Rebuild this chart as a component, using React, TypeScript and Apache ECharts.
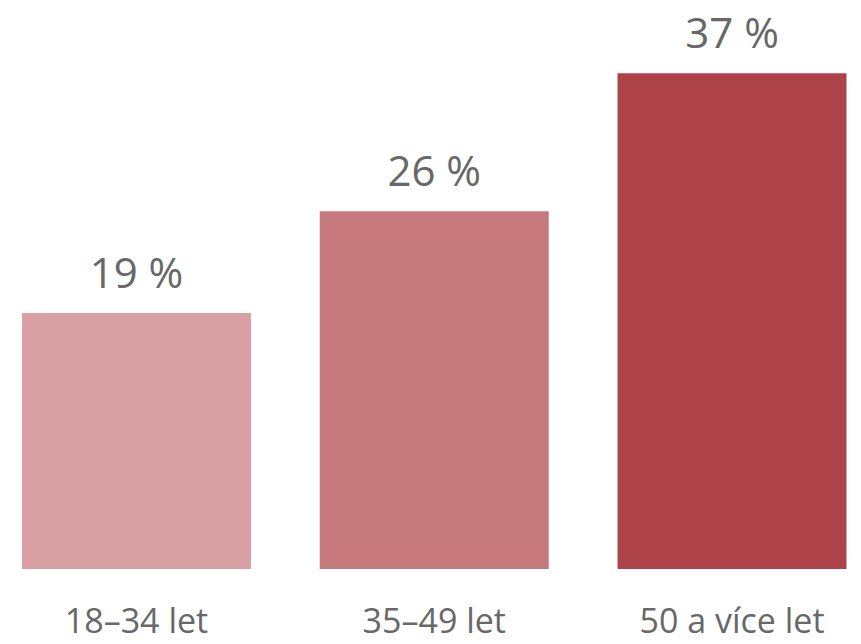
import React, { useEffect, useRef } from "react";
import * as echarts from "echarts";

const categories = ["18–34 let", "35–49 let", "50 a více let"];
const values = [19.1, 26.7, 37.0];
const valueLabels = ["19 %", "26 %", "37 %"];
const barColors = ["#D8A0A3", "#C6797C", "#AE4249"];

export default function App() {
  const ref = useRef<HTMLDivElement>(null);
  useEffect(() => {
    document.body.style.margin = "0";
    const chart = echarts.init(ref.current!, null, { renderer: "svg" });
    chart.setOption({
      animation: false,
      backgroundColor: "#ffffff",
      grid: { left: -12.4, right: -19.9, top: 33, bottom: 75, outerBoundsMode: "none", containLabel: false },
      xAxis: {
        type: "category",
        data: categories,
        axisLine: { show: false },
        axisTick: { show: false },
        axisLabel: {
          color: "#686868",
          fontFamily: "Open Sans",
          fontSize: 34,
          lineHeight: 28,
          margin: 37,
          interval: 0,
        },
      },
      yAxis: {
        type: "value",
        min: 0,
        max: 40,
        show: false,
        splitLine: { show: false },
      },
      series: [
        {
          type: "bar",
          barWidth: 229,
          data: values.map((v, i) => ({ value: v, itemStyle: { color: barColors[i] } })),
          label: {
            show: true,
            position: "top",
            distance: 21,
            color: "#686868",
            fontFamily: "Open Sans",
            fontSize: 42,
            formatter: (p: any) => valueLabels[p.dataIndex],
          },
        },
      ],
    });
    return () => chart.dispose();
  }, []);
  return (
    <div
      ref={ref}
      style={{ position: "fixed", left: 0, top: 0, width: 861, height: 644 }}
    />
  );
}
